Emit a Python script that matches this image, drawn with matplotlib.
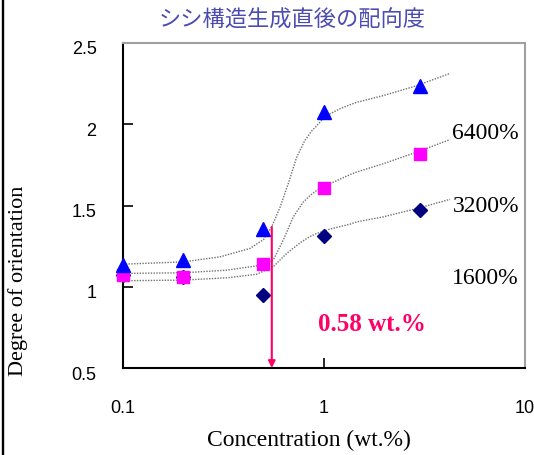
import matplotlib

matplotlib.use("Agg")
import matplotlib.pyplot as plt
import matplotlib.transforms as mtransforms
from matplotlib.lines import Line2D

# measured points
conc = [0.1, 0.2, 0.5, 1.0, 3.0]
orient_6400 = [1.135, 1.164, 1.358, 2.074, 2.237]
orient_3200 = [1.072, 1.062, 1.139, 1.607, 1.814]
orient_1600 = [1.07, 1.06, 0.949, 1.311, 1.470]

# fitted trend curves
fit_x_6400 = [0.1, 0.2, 0.304, 0.429, 0.48, 0.5, 0.549, 0.605, 0.664, 0.731, 0.803,
              0.87, 0.92, 0.99, 1.071, 1.2, 1.347, 1.454, 1.97, 2.89, 4.24]
fit_y_6400 = [1.139, 1.153, 1.184, 1.236, 1.276, 1.29, 1.368, 1.49, 1.634, 1.797, 1.90,
              1.96, 1.99, 2.035, 2.064, 2.095, 2.12, 2.135, 2.176, 2.237, 2.313]
fit_x_3200 = [0.1, 0.2, 0.328, 0.49, 0.559, 0.627, 0.704, 0.787, 0.86, 0.92, 1.071, 1.347,
              1.454, 1.97, 2.89, 4.24]
fit_y_3200 = [1.082, 1.086, 1.102, 1.133, 1.164, 1.287, 1.43, 1.52, 1.565, 1.593, 1.634, 1.69,
              1.706, 1.757, 1.828, 1.906]
fit_x_1600 = [0.1, 0.2, 0.328, 0.463, 0.559, 0.652, 0.76, 0.84, 0.92, 1.071, 1.347, 1.454,
              1.97, 2.89, 4.24]
fit_y_1600 = [1.037, 1.041, 1.055, 1.077, 1.123, 1.205, 1.27, 1.305, 1.328, 1.355, 1.385, 1.399,
              1.43, 1.481, 1.538]

series_labels = ["6400%", "3200%", "1600%"]
label_y = [1.943, 1.495, 1.053]
critical_conc = 0.55
critical_top = 1.368
critical_text = "0.58 wt.%"

xtick_vals = [0.1, 1, 10]
xtick_text = ["0.1", "1", "10"]
ytick_vals = [0.5, 1, 1.5, 2, 2.5]
ytick_text = ["0.5", "1", "1.5", "2", "2.5"]

serif = ["Liberation Serif", "DejaVu Serif"]
sans = ["Liberation Sans", "DejaVu Sans"]

fig = plt.figure(figsize=(5.34, 4.55), dpi=100)
ax = fig.add_axes([0.2303, 0.1912, 0.7528, 0.7143])

curve_style = dict(color="#707070", linestyle=(0, (1, 1)), linewidth=1.0, zorder=2)
ax.plot(fit_x_6400, fit_y_6400, **curve_style)
ax.plot(fit_x_3200, fit_y_3200, **curve_style)
ax.plot(fit_x_1600, fit_y_1600, **curve_style)

ax.plot(conc, orient_1600, "D", color="#000080", markersize=7, linestyle="none",
        zorder=3, clip_on=False)
ax.plot(conc, orient_3200, "s", color="#FF00FF", markersize=8.5, linestyle="none",
        zorder=4, clip_on=False)
ax.plot(conc, orient_6400, "^", color="#0000FF", markersize=9.5, linestyle="none",
        zorder=5, clip_on=False)

ax.annotate("", xy=(critical_conc, 0.5), xytext=(critical_conc, critical_top),
            arrowprops=dict(arrowstyle="-|>", color="#FF0066", lw=1.5,
                            mutation_scale=10, shrinkA=0, shrinkB=0), zorder=6)
ax.text(1.73, 0.765, critical_text, color="#FF0066", fontsize=18, fontweight="bold",
        family=serif, ha="center", va="center")

for lab, y in zip(series_labels, label_y):
    ax.text(9.33, y, lab, fontsize=17, family=serif, ha="right", va="center")

ax.set_xscale("log")
ax.set_xlim(0.1, 10)
ax.set_ylim(0.5, 2.5)
ax.minorticks_off()
ax.tick_params(axis="both", direction="in", length=7, width=1.2, color="black")
ax.tick_params(axis="y", pad=19)
ax.tick_params(axis="x", pad=23)
ax.set_xticks(xtick_vals)
ax.set_xticklabels(xtick_text, fontsize=13, fontfamily=sans)
ax.set_yticks(ytick_vals)
ax.set_yticklabels(ytick_text, fontsize=13, fontfamily=sans)
ax.minorticks_off()
shift = mtransforms.ScaledTranslation(0, -5 / 100, fig.dpi_scale_trans)
for t in ax.get_yticklabels():
    t.set_transform(t.get_transform() + shift)

for side in ("left", "bottom"):
    ax.spines[side].set_color("black")
    ax.spines[side].set_linewidth(1.5)
for side in ("top", "right"):
    ax.spines[side].set_color("#a0a0a0")
    ax.spines[side].set_linewidth(1.5)

ax.set_xlabel("Concentration (wt.%)", fontsize=17, family=serif, va="center")
ax.xaxis.set_label_coords(0.4627, -0.2215)
ax.set_ylabel("Degree of orientation", fontsize=16, family=serif, va="center")
ax.yaxis.set_label_coords(-0.261, 0.268)

fig.text(0.547, 0.956, "シシ構造生成直後の配向度", color="#4B4BB0", fontsize=16,
         family=["Noto Sans CJK JP", "DejaVu Sans"], ha="center", va="center")

fig.add_artist(Line2D([0.0052, 0.0052], [0, 1], transform=fig.transFigure,
                      color="black", linewidth=1.7))

fig.savefig("out.png", dpi=100)
